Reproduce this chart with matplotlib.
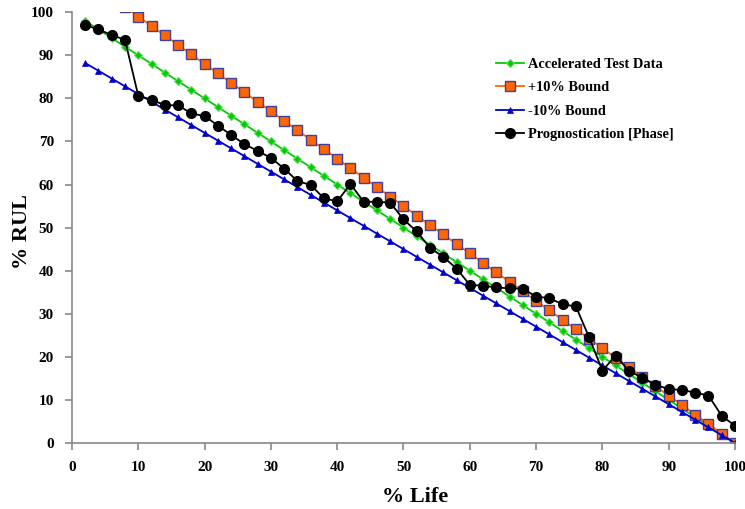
import matplotlib
matplotlib.use("Agg")
import matplotlib.pyplot as plt

plt.rcParams['font.family'] = ['Liberation Serif', 'DejaVu Serif']
plt.rcParams['font.weight'] = 'bold'

# % life at each sample
life = [2, 4, 6, 8, 10, 12, 14, 16, 18, 20, 22, 24, 26, 28, 30, 32, 34, 36, 38, 40,
        42, 44, 46, 48, 50, 52, 54, 56, 58, 60, 62, 64, 66, 68, 70, 72, 74, 76, 78, 80,
        82, 84, 86, 88, 90, 92, 94, 96, 98, 100]

accelerated = [98, 96, 94, 92, 90, 88, 86, 84, 82, 80, 78, 76, 74, 72, 70, 68, 66, 64, 62, 60,
               58, 56, 54, 52, 50, 48, 46, 44, 42, 40, 38, 36, 34, 32, 30, 28, 26, 24, 22, 20,
               18, 16, 14, 12, 10, 8, 6, 4, 2, 0]

life_upper = life[3:]
upper_bound = [101.2, 99.0, 96.8, 94.6, 92.4, 90.2, 88.0, 85.8, 83.6, 81.4, 79.2, 77.0, 74.8,
               72.6, 70.4, 68.2, 66.0, 63.8, 61.6, 59.4, 57.2, 55.0, 52.8, 50.6, 48.4, 46.2,
               44.0, 41.8, 39.6, 37.4, 35.2, 33.0, 30.8, 28.6, 26.4, 24.2, 22.0, 19.8, 17.6,
               15.4, 13.2, 11.0, 8.8, 6.6, 4.4, 2.2, 0.0]

lower_bound = [88.2, 86.4, 84.6, 82.8, 81.0, 79.2, 77.4, 75.6, 73.8, 72.0, 70.2, 68.4, 66.6,
               64.8, 63.0, 61.2, 59.4, 57.6, 55.8, 54.0, 52.2, 50.4, 48.6, 46.8, 45.0, 43.2,
               41.4, 39.6, 37.8, 36.0, 34.2, 32.4, 30.6, 28.8, 27.0, 25.2, 23.4, 21.6, 19.8,
               18.0, 16.2, 14.4, 12.6, 10.8, 9.0, 7.2, 5.4, 3.6, 1.8, 0.0]

prognostication = [97.0, 96.0, 94.7, 93.6, 80.6, 79.7, 78.4, 78.4, 76.5, 75.9, 73.7, 71.5,
                   69.4, 67.8, 66.2, 63.7, 60.8, 59.9, 56.8, 56.1, 60.1, 56.0, 56.0, 55.8,
                   51.9, 49.1, 45.3, 43.2, 40.5, 36.7, 36.5, 36.1, 35.9, 35.8, 34.0, 33.6,
                   32.2, 31.7, 24.5, 16.8, 20.3, 16.7, 15.2, 13.5, 12.5, 12.3, 11.7, 11.0,
                   6.3, 4.0]

fig = plt.figure(figsize=(7.45, 5.09), dpi=100)
ax = fig.add_axes([0.0966, 0.1297, 0.89, 0.8463])

ax.plot(life, accelerated, color='#00CC00', lw=1.3, marker='D', ms=4,
        mfc='#00CC00', mec='#66DD66', mew=0.8, label='Accelerated Test Data')
ax.plot(life_upper, upper_bound, color='#FF6600', lw=1.3, marker='s', ms=6.5,
        mfc='#FF6600', mec='#4040A0', mew=1.0, label='+10% Bound')
ax.plot(life, lower_bound, color='#0000CC', lw=1.3, marker='^', ms=5,
        mfc='#0000CC', mec='#0000CC', mew=0.5, label='-10% Bound')
ax.plot(life, prognostication, color='black', lw=1.3, marker='o', ms=7,
        mfc='black', mec='black', label='Prognostication [Phase]')

ax.set_xlim(0, 100)
ax.set_ylim(0, 100)
ax.set_xticks(range(0, 101, 10))
ax.set_yticks(range(0, 101, 10))

for side in ('top', 'right'):
    ax.spines[side].set_visible(False)
for side in ('left', 'bottom'):
    ax.spines[side].set_color('#888888')
    ax.spines[side].set_linewidth(1.2)
ax.tick_params(axis='both', direction='out', length=5, width=1.2, color='#888888',
               labelsize=11, pad=8)
for lbl in ax.get_xticklabels() + ax.get_yticklabels():
    lbl.set_fontweight('bold')

ax.set_xlabel('% Life', fontsize=16, fontweight='bold')
ax.set_ylabel('% RUL', fontsize=16, fontweight='bold')
ax.xaxis.set_label_coords(0.518, -0.102)
ax.yaxis.set_label_coords(-0.06, 0.49)

leg = ax.legend(loc='upper left', bbox_to_anchor=(0.62, 0.925), frameon=False,
                prop={'family': 'Liberation Serif', 'weight': 'bold', 'size': 10.4},
                handlelength=1.9, handletextpad=0.3, labelspacing=0.72)

fig.savefig('out.png', dpi=100)
